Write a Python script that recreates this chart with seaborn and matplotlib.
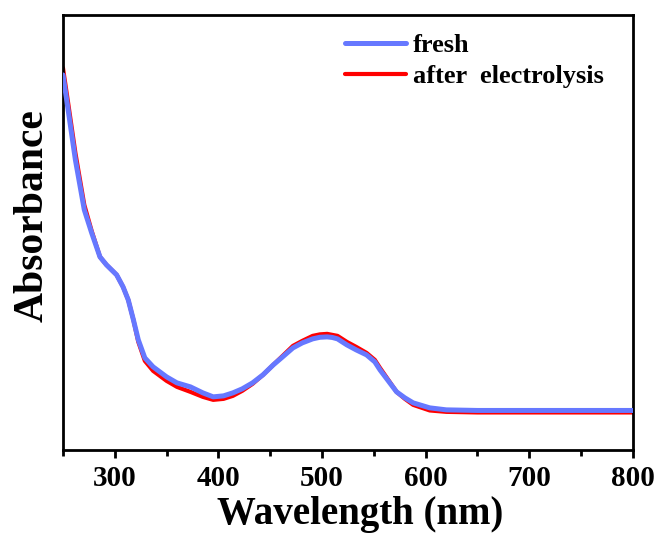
import matplotlib
matplotlib.use("Agg")
import matplotlib.pyplot as plt
import seaborn as sns
import pandas as pd
from matplotlib.ticker import MultipleLocator

# Wavelength (nm) and absorbance (arbitrary units)
fresh_wl = [250, 255, 262, 270.6, 277.7, 285.7, 292, 301.8, 308, 313, 318, 322.7,
            329, 337, 350, 360, 373, 385, 395, 405, 414, 423, 433, 443, 453, 462,
            472, 481, 491, 498, 505, 510, 515, 524, 533, 543, 551, 556, 564, 572,
            580, 588, 604, 620, 650, 700, 750, 800]
fresh_abs = [0.9375, 0.85, 0.725, 0.60, 0.5425, 0.4825, 0.4625, 0.4375, 0.4075,
             0.375, 0.325, 0.275, 0.23, 0.2075, 0.1825, 0.1675, 0.1575, 0.1425,
             0.1325, 0.135, 0.1425, 0.1525, 0.1675, 0.1875, 0.2125, 0.2325, 0.255,
             0.2675, 0.2775, 0.2815, 0.2825, 0.281, 0.2775, 0.2625, 0.25, 0.2375,
             0.22, 0.20, 0.1725, 0.145, 0.13, 0.1175, 0.105, 0.10, 0.0985, 0.0985,
             0.0985, 0.0985]

after_wl = [250, 255, 262, 270.6, 277.7, 285.7, 292, 301.8, 308, 313, 318, 322.7,
            329, 337, 350, 360, 373, 385, 395, 405, 414, 423, 433, 443, 453, 462,
            472, 481, 491, 498, 505, 510, 515, 524, 533, 543, 551, 556, 564, 572,
            580, 588, 604, 620, 650, 700, 750, 800]
after_abs = [0.955, 0.8675, 0.7425, 0.6125, 0.5475, 0.4825, 0.4625, 0.4375, 0.4075,
             0.375, 0.325, 0.27, 0.2225, 0.1975, 0.1725, 0.1575, 0.145, 0.1325,
             0.125, 0.1275, 0.135, 0.1475, 0.165, 0.1875, 0.2125, 0.235, 0.26,
             0.2725, 0.285, 0.28875, 0.29, 0.2875, 0.285, 0.27, 0.2575, 0.2425,
             0.225, 0.205, 0.175, 0.145, 0.1275, 0.1125, 0.0985, 0.095, 0.0935,
             0.0935, 0.0935, 0.0935]

xticks = [300, 400, 500, 600, 700, 800]
labels = ["fresh", "after  electrolysis"]

df_f = pd.DataFrame({"wl": fresh_wl, "A": fresh_abs})
df_a = pd.DataFrame({"wl": after_wl, "A": after_abs})

sns.set_style("ticks")
plt.rcParams["font.family"] = ["Liberation Serif", "DejaVu Serif"]
plt.rcParams["font.weight"] = "bold"
plt.rcParams["text.color"] = "black"
plt.rcParams["axes.labelcolor"] = "black"
plt.rcParams["xtick.color"] = "black"
plt.rcParams["ytick.color"] = "black"

fig = plt.figure(figsize=(6.58, 5.33), dpi=100)
ax = fig.add_axes([0.0957, 0.156, 0.866, 0.816])

sns.lineplot(data=df_a, x="wl", y="A", ax=ax, color="#ff0000", lw=3.0,
             label=labels[1], estimator=None, zorder=2)
sns.lineplot(data=df_f, x="wl", y="A", ax=ax, color="#6678ff", lw=3.6,
             label=labels[0], estimator=None, zorder=3)

ax.set_xlim(250, 800)
ax.set_ylim(0, 1.0875)
ax.set_xticks(xticks)
ax.xaxis.set_minor_locator(MultipleLocator(50))
ax.set_yticks([])
ax.tick_params(axis="x", which="major", direction="out", length=6, width=2,
               labelsize=21, pad=5, colors="black")
ax.tick_params(axis="x", which="minor", direction="out", length=4, width=2,
               colors="black")
for lab in ax.get_xticklabels():
    lab.set_fontweight("bold")
for s in ax.spines.values():
    s.set_visible(True)
    s.set_linewidth(2.0)
    s.set_color("black")

ax.set_xlabel("Wavelength (nm)", fontsize=28, fontweight="bold", labelpad=3,
              color="black")
ax.set_ylabel("Absorbance", fontsize=30, fontweight="bold", labelpad=8,
              color="black")
ax.xaxis.label.set_x(0.521)
ax.yaxis.label.set_y(0.538)

h, l = ax.get_legend_handles_labels()
order = [l.index(labels[0]), l.index(labels[1])]
leg = ax.legend([h[i] for i in order], [l[i] for i in order], loc="upper left",
                bbox_to_anchor=(0.454, 1.011), frameon=False,
                handlelength=2.3, handletextpad=0.25, labelspacing=0.28,
                prop={"weight": "bold", "size": 19}, labelcolor="black")

fig.savefig("out.png", dpi=100)
